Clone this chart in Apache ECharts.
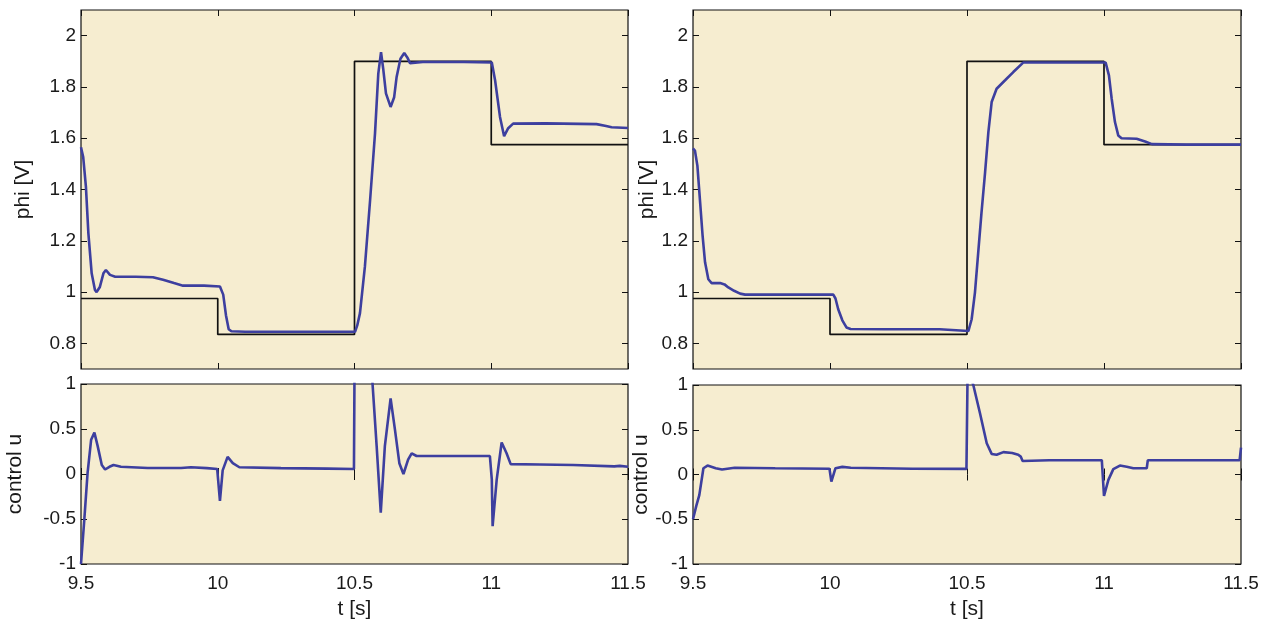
<!DOCTYPE html>
<html>
<head>
<meta charset="utf-8">
<script src="https://cdn.jsdelivr.net/npm/echarts@6/dist/echarts.min.js"></script>
<style>
html,body{margin:0;padding:0;background:#fff;}
#c{width:1268px;height:621px;}
</style>
</head>
<body>
<div id="c"></div>
<script>
// ---- data ----
const xTicks = [9.5, 10, 10.5, 11, 11.5];
const phiTicks = [0.8, 1, 1.2, 1.4, 1.6, 1.8, 2];
const uTicks = [-1, -0.5, 0, 0.5, 1];

// reference (step) signal: value holds from each breakpoint to the next
const refT = [9.5, 10, 10.5, 11, 11.5];
const refV = [0.975, 0.835, 1.9, 1.575, 1.575];

// left: phi
const phiLT = [9.5, 9.508, 9.518, 9.527, 9.539, 9.551, 9.557, 9.569, 9.582, 9.591, 9.606, 9.625, 9.70, 9.763, 9.80, 9.84, 9.873, 9.95, 10.008, 10.02, 10.03, 10.04, 10.05, 10.1, 10.3, 10.502, 10.51, 10.52, 10.538, 10.557, 10.575, 10.587, 10.597, 10.605, 10.615, 10.632, 10.645, 10.654, 10.668, 10.682, 10.693, 10.703, 10.75, 10.9, 11.002, 11.014, 11.032, 11.047, 11.062, 11.08, 11.2, 11.385, 11.42, 11.44, 11.5];
const phiLV = [1.565, 1.527, 1.41, 1.229, 1.073, 1.008, 1.0, 1.02, 1.073, 1.086, 1.067, 1.06, 1.06, 1.058, 1.048, 1.035, 1.025, 1.025, 1.022, 0.99, 0.91, 0.855, 0.847, 0.845, 0.845, 0.845, 0.87, 0.918, 1.099, 1.358, 1.619, 1.852, 1.936, 1.87, 1.775, 1.722, 1.76, 1.839, 1.91, 1.932, 1.915, 1.893, 1.897, 1.897, 1.895, 1.826, 1.683, 1.608, 1.639, 1.657, 1.658, 1.655, 1.648, 1.643, 1.64];

// right: phi
const phiRT = [9.5, 9.507, 9.516, 9.526, 9.535, 9.544, 9.556, 9.568, 9.599, 9.615, 9.629, 9.65, 9.672, 9.69, 9.8, 9.95, 10.012, 10.02, 10.03, 10.045, 10.06, 10.075, 10.2, 10.4, 10.505, 10.517, 10.529, 10.541, 10.553, 10.566, 10.578, 10.59, 10.608, 10.639, 10.669, 10.705, 10.8, 10.95, 11.006, 11.018, 11.028, 11.04, 11.052, 11.064, 11.119, 11.15, 11.175, 11.3, 11.5];
const phiRV = [1.56, 1.552, 1.493, 1.35, 1.22, 1.116, 1.05, 1.035, 1.035, 1.03, 1.018, 1.005, 0.994, 0.99, 0.99, 0.99, 0.99, 0.975, 0.933, 0.89, 0.862, 0.856, 0.855, 0.855, 0.848, 0.894, 0.998, 1.155, 1.311, 1.467, 1.624, 1.741, 1.793, 1.826, 1.858, 1.895, 1.895, 1.895, 1.895, 1.845, 1.754, 1.663, 1.611, 1.6, 1.598, 1.587, 1.577, 1.575, 1.575];

// left: control u
const uLT = [9.5, 9.512, 9.524, 9.537, 9.549, 9.561, 9.576, 9.588, 9.604, 9.619, 9.646, 9.744, 9.866, 9.902, 9.96, 9.998, 10.008, 10.018, 10.036, 10.055, 10.079, 10.231, 10.4, 10.498, 10.502, 10.545, 10.566, 10.581, 10.596, 10.611, 10.632, 10.648, 10.664, 10.679, 10.696, 10.709, 10.727, 10.85, 10.995, 11.002, 11.005, 11.02, 11.038, 11.056, 11.071, 11.178, 11.3, 11.45, 11.47, 11.5];
const uLV = [-1, -0.51, 0.01, 0.38, 0.46, 0.31, 0.10, 0.05, 0.08, 0.10, 0.08, 0.067, 0.067, 0.075, 0.065, 0.055, -0.3, 0.04, 0.19, 0.12, 0.075, 0.065, 0.06, 0.055, 2.2, 2.0, 1.0, 0.31, -0.43, 0.31, 0.84, 0.49, 0.12, 0.0, 0.16, 0.23, 0.2, 0.2, 0.2, -0.06, -0.58, -0.06, 0.35, 0.23, 0.11, 0.105, 0.1, 0.085, 0.09, 0.08];

// right: control u
const uRT = [9.5, 9.512, 9.523, 9.538, 9.553, 9.583, 9.606, 9.652, 9.8, 9.998, 10.005, 10.02, 10.045, 10.076, 10.3, 10.498, 10.502, 10.512, 10.523, 10.547, 10.572, 10.59, 10.608, 10.633, 10.665, 10.687, 10.696, 10.703, 10.8, 10.992, 11.0, 11.016, 11.034, 11.058, 11.083, 11.107, 11.156, 11.16, 11.3, 11.495, 11.5];
const uRV = [-0.5, -0.35, -0.23, 0.07, 0.1, 0.07, 0.055, 0.075, 0.07, 0.065, -0.08, 0.07, 0.085, 0.075, 0.065, 0.063, 1.1, 1.1, 1.0, 0.69, 0.35, 0.23, 0.22, 0.25, 0.24, 0.22, 0.2, 0.15, 0.16, 0.16, -0.24, -0.06, 0.06, 0.1, 0.087, 0.07, 0.07, 0.16, 0.16, 0.16, 0.3];

// ---- chart ----
const zip = (a, b) => a.map((t, i) => [t, b[i]]);
const FONT = 'Liberation Sans';
const TXT = '#1a1a1a';
const BG = '#F6EDD0';
const BLUE = '#3d3f9f';

const grids = [
  {left: 81, top: 10, width: 547, height: 359},
  {left: 81, top: 384, width: 547, height: 180},
  {left: 693, top: 10, width: 548, height: 359},
  {left: 693, top: 385, width: 548, height: 179}
].map(g => Object.assign(g, {show: true, backgroundColor: BG, borderColor: '#111', borderWidth: 1.2, containLabel: false}));

function xAx(gi, showLabel, pos) {
  return {
    type: 'value', gridIndex: gi, min: 9.5, max: 11.5, interval: 0.5, position: pos,
    axisLine: {show: false},
    axisTick: {show: true, inside: true, length: 6, lineStyle: {color: '#111', width: 1}},
    splitLine: {show: false},
    axisLabel: {show: showLabel, color: TXT, fontFamily: FONT, fontSize: 19, margin: 10,
      formatter: v => String(v)},
    name: showLabel ? 't [s]' : '', nameLocation: 'middle', nameGap: 35,
    nameTextStyle: {color: TXT, fontFamily: FONT, fontSize: 21}
  };
}
function yPhi(gi, pos, name, gap) {
  return {
    type: 'value', gridIndex: gi, min: 0.7, max: 2.1, position: pos,
    axisLine: {show: false},
    axisTick: {show: true, inside: true, length: 6, customValues: phiTicks, lineStyle: {color: '#111', width: 1}},
    splitLine: {show: false},
    axisLabel: {show: pos === 'left', customValues: phiTicks, color: TXT, fontFamily: FONT, fontSize: 19, margin: 5,
      formatter: v => String(v)},
    name: name, nameLocation: 'middle', nameGap: gap,
    nameTextStyle: {color: TXT, fontFamily: FONT, fontSize: 21}
  };
}
function yU(gi, pos, name, gap) {
  return {
    type: 'value', gridIndex: gi, min: -1, max: 1, interval: 0.5, position: pos,
    axisLine: {show: false},
    axisTick: {show: true, inside: true, length: 6, lineStyle: {color: '#111', width: 1}},
    splitLine: {show: false},
    axisLabel: {show: pos === 'left', color: TXT, fontFamily: FONT, fontSize: 19, margin: 5,
      formatter: v => String(v)},
    name: name, nameLocation: 'middle', nameGap: gap,
    nameTextStyle: {color: TXT, fontFamily: FONT, fontSize: 21}
  };
}

const xAxis = [
  xAx(0, false, 'bottom'), xAx(1, true, 'bottom'), xAx(2, false, 'bottom'), xAx(3, true, 'bottom'),
  xAx(0, false, 'top'), xAx(1, false, 'top'), xAx(2, false, 'top'), xAx(3, false, 'top')
];
const yAxis = [
  yPhi(0, 'left', 'phi [V]', 47), yU(1, 'left', 'control u', 55), yPhi(2, 'left', 'phi [V]', 30), yU(3, 'left', 'control u', 38),
  yPhi(0, 'right', '', 0), yU(1, 'right', '', 0), yPhi(2, 'right', '', 0), yU(3, 'right', '', 0)
];

function refSeries(i) {
  return {type: 'line', xAxisIndex: i, yAxisIndex: i, step: 'end', data: zip(refT, refV),
    showSymbol: false, lineStyle: {color: '#111', width: 1.7}, z: 2, silent: true};
}
function blueSeries(i, t, v) {
  return {type: 'line', xAxisIndex: i, yAxisIndex: i, data: zip(t, v), clip: true,
    showSymbol: false, lineStyle: {color: BLUE, width: 2.6}, z: 3, silent: true};
}

const option = {
  animation: false,
  backgroundColor: '#fff',
  grid: grids,
  xAxis: xAxis,
  yAxis: yAxis,
  series: [
    refSeries(0), blueSeries(0, phiLT, phiLV),
    blueSeries(1, uLT, uLV),
    refSeries(2), blueSeries(2, phiRT, phiRV),
    blueSeries(3, uRT, uRV)
  ]
};
const chart = echarts.init(document.getElementById('c'), null, {renderer: 'canvas'});
chart.setOption(option);
</script>
</body>
</html>
